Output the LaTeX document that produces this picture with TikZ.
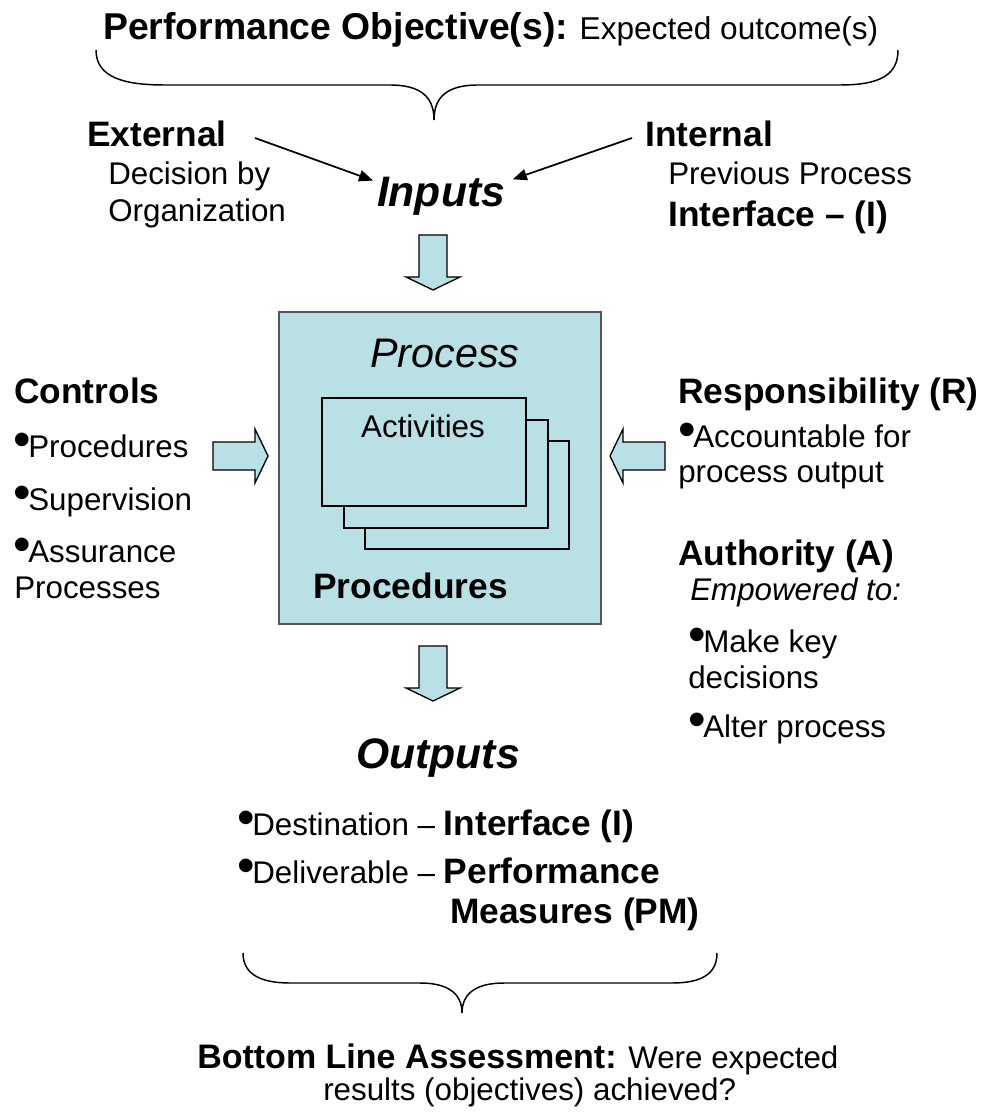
\documentclass[tikz,border=0pt]{standalone}
\usepackage{fontspec}
\setmainfont{Liberation Sans}
\usepackage{tikz}
\usetikzlibrary{
	positioning		% relative placement
	, arrows.meta		% Triangle tips on the feed arrows
	, calc
}

\definecolor{procfill}{RGB}{185,224,228}
\definecolor{procedge}{RGB}{85,85,85}

% raised bullet as in the slide
\newcommand{\blt}{\raisebox{0.03em}{\scalebox{1.6}{•}}\kern-0.08em}

\begin{document}
\begin{tikzpicture}[x=0.75pt, y=-0.75pt
		, lbl/.style={inner sep=0pt, anchor=base west}
		, heading/.style={lbl, font=\fontsize{26.5}{30}\selectfont\bfseries}
		, body/.style={lbl, font=\fontsize{23.5}{28}\selectfont}
		, flowword/.style={inner sep=0pt, anchor=base, font=\fontsize{32}{36}\selectfont\bfseries\itshape}
		, procbox/.style={draw=procedge, fill=procfill, line width=1.5pt, inner sep=0pt, anchor=north west}
		, card/.style={draw=black, fill=procfill, line width=1.4pt, inner sep=0pt, anchor=north west, minimum width=153pt, minimum height=81pt}
		, blockarrow/.style={draw=black, fill=procfill, line width=1pt, line join=miter}
		, feeds/.style={-{Triangle[length=10.5pt, width=8.5pt]}, line width=1.3pt}
		, brace/.style={line width=1.1pt}]

		\path[fill=white, use as bounding box] (0,0) rectangle (987,1112);

		%%% Objective
		\node[lbl] (objective) at (103,40) {\fontsize{23.7}{28}\selectfont{\fontsize{28}{32}\selectfont\bfseries Performance Objective(s):} Expected outcome(s)};

		%% Objective Brace
		\coordinate (objectivetip) at (434,120);
		\draw[brace] (96,50) .. controls (96,78) and (125,85) .. (165,85) -- (390,85) .. controls (422,85) and (434,98) .. (objectivetip);
		\draw[brace] (objectivetip) .. controls (434,98) and (446,85) .. (478,85) -- (840,85) .. controls (880,85) and (898,75) .. (898,50);

		%%% Inputs
		\node[heading] (external) at (87,147) {External};
		\node[body] (decision) at (108,185) {Decision by};
		\node[body] (organization) at (108,222) {Organization};
		\node[flowword] (inputs) at (441,207) {Inputs};
		\node[heading] (internal) at (645,147) {Internal};
		\node[body] (previous) at (668,185) {Previous Process};
		\node[heading] (interfacein) at (668,227) {Interface – (I)};

		%% Feeds into the inputs
		\coordinate (externalfrom) at (255,138);
		\coordinate (internalfrom) at (632,138);
		\draw[feeds, shorten >=3pt] (externalfrom) -- (inputs.167);
		\draw[feeds, shorten >=6pt] (internalfrom) -- (inputs.13);

		%%% Process
		\node[procbox, minimum width=241.5pt, minimum height=234pt] (process) at (278,311) {};
		\node[inner sep=0pt, anchor=base, font=\fontsize{31}{34}\selectfont\itshape] (processlabel) at (445,367) {Process};
		\foreach \shift/\card in {43/cardback, 22/cardmid, 0/cardfront} {
			\node[card] (\card) at ({321+\shift},{397+\shift}) {};
		}
		\node[body, anchor=base] (activities) at (423,437) {Activities};
		\node[heading] (procedures) at (313,598) {Procedures};

		%% Block arrows round the process
		\foreach \tx/\ty/\turn in {433/290/-90, 433/701/-90, 268/456/0, 610/456/180} {
			\draw[blockarrow, shift={(\tx,\ty)}, rotate=\turn] (0,0) -- (-13,-27) -- (-13,-14) -- (-55,-14)
				-- (-55,14) -- (-13,14) -- (-13,27) -- cycle;
		}

		%%% Controls
		\node[heading] (controls) at (14,403) {Controls};
		\node[body] (controlprocedures) at (13,457) {\blt Procedures};
		\node[body] (supervision) at (13,510) {\blt Supervision};
		\node[body] (assurance) at (13,562) {\blt Assurance};
		\node[body] (assurancenext) at (14,598) {Processes};

		%%% Responsibility and Authority
		\node[heading] (responsibility) at (678,403) {Responsibility (R)};
		\node[body] (accountable) at (678,447) {\blt Accountable for};
		\node[body] (accountablenext) at (678,482) {process output};
		\node[heading] (authority) at (678,565) {Authority (A)};
		\node[body, font=\fontsize{23.5}{28}\selectfont\itshape] (empowered) at (690,600) {Empowered to:};
		\node[body] (makekey) at (688,652) {\blt Make key};
		\node[body] (makekeynext) at (688,688) {decisions};
		\node[body] (alter) at (688,737) {\blt Alter process};

		%%% Outputs
		\node[flowword] (outputs) at (438,768) {Outputs};
		\node[body] (destination) at (237,835) {\blt Destination – {\fontsize{26.5}{30}\selectfont\bfseries Interface (I)}};
		\node[body] (deliverable) at (237,883) {\blt Deliverable – {\fontsize{26.5}{30}\selectfont\bfseries Performance}};
		\node[heading] (measures) at (450,923) {Measures (PM)};

		%% Result Brace
		\coordinate (resulttip) at (462,1013);
		\draw[brace] (243,953) .. controls (243,975) and (262,983) .. (290,983) -- (420,983) .. controls (450,983) and (462,995) .. (resulttip);
		\draw[brace] (resulttip) .. controls (462,995) and (474,983) .. (504,983) -- (672,983) .. controls (700,983) and (717,975) .. (717,953);

		%%% Bottom line
		\node[body] (bottomline) at (197,1068) {{\fontsize{25.5}{30}\selectfont\bfseries Bottom Line Assessment:} Were expected};
		\node[body] (bottomlinenext) at (323,1100) {results (objectives) achieved?};
\end{tikzpicture}
\end{document}
